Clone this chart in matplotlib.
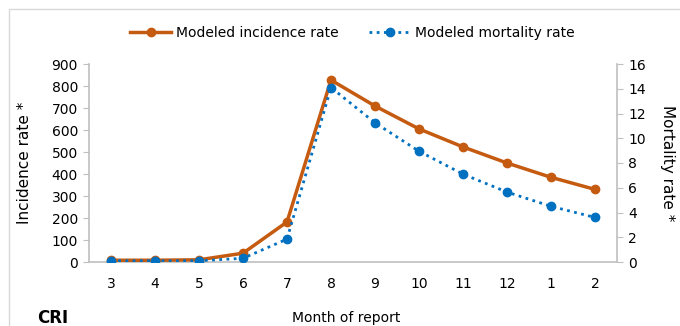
import numpy as np
import matplotlib.pyplot as plt
from matplotlib.patches import Rectangle

plt.rcParams['font.family'] = ['DejaVu Sans']

# months of report (Mar .. Feb)
months = ["3", "4", "5", "6", "7", "8", "9", "10", "11", "12", "1", "2"]
incidence = [8, 8, 10, 40, 182, 827, 709, 605, 523, 450, 385, 330]
mortality = [0.1, 0.1, 0.1, 0.3, 1.85, 14.1, 11.25, 8.95, 7.1, 5.65, 4.5, 3.6]

orange = "#C55A11"
blue = "#0070C0"
spine_gray = "#BFBFBF"

fig = plt.figure(figsize=(6.8, 3.26), dpi=100)
# outer chart border
fig.patches.append(Rectangle((9 / 680, -0.1), 1.0, 1.1 - 9 / 326, transform=fig.transFigure,
                             fill=False, edgecolor="#D9D9D9", linewidth=1.0))

ax = fig.add_axes([89 / 680, 1 - 262 / 326, (617 - 89) / 680, (262 - 64) / 326])
ax2 = ax.twinx()

x = np.arange(len(months))
l1, = ax.plot(x, incidence, color=orange, linewidth=2.5, marker="o", markersize=6,
              label="Modeled incidence rate", zorder=3)
l2, = ax2.plot(x, mortality, color=blue, linewidth=2, linestyle=(0, (1, 1.6)), marker="o",
               markersize=6, label="Modeled mortality rate", zorder=3)

ax.set_xlim(-0.5, len(months) - 0.5)
ax.set_ylim(0, 900)
ax.set_yticks(np.arange(0, 901, 100))
ax2.set_ylim(0, 16)
ax2.set_yticks(np.arange(0, 17, 2))
ax.set_xticks(x)
ax.set_xticklabels(months)

for a in (ax, ax2):
    for s in a.spines.values():
        s.set_visible(False)
ax.spines["left"].set_visible(True)
ax.spines["bottom"].set_visible(True)
ax2.spines["right"].set_visible(True)
for s in (ax.spines["left"], ax.spines["bottom"], ax2.spines["right"]):
    s.set_color(spine_gray)
    s.set_linewidth(1.2)

ax.tick_params(axis="y", direction="out", length=4, color=spine_gray, labelsize=10, pad=4)
ax.tick_params(axis="x", length=0, labelsize=10, pad=11)
ax2.tick_params(axis="y", direction="out", length=4, color=spine_gray, labelsize=10, pad=4)

ax.set_ylabel("Incidence rate *", fontsize=11, labelpad=14)
ax2.set_ylabel("Mortality rate *", fontsize=11, rotation=270, labelpad=21)

fig.text(292 / 680, 1 - 318 / 326, "Month of report", fontsize=10, ha="left", va="center")
fig.text(37 / 680, 1 - 318 / 326, "CRI", fontsize=12, fontweight="bold", ha="left", va="center")

fig.legend(handles=[l1, l2], loc="center", bbox_to_anchor=(352 / 680, 1 - 33 / 326), ncol=2,
           frameon=False, fontsize=10, handlelength=3, columnspacing=2.2, handletextpad=0.3)

fig.savefig("out.png", dpi=100)
